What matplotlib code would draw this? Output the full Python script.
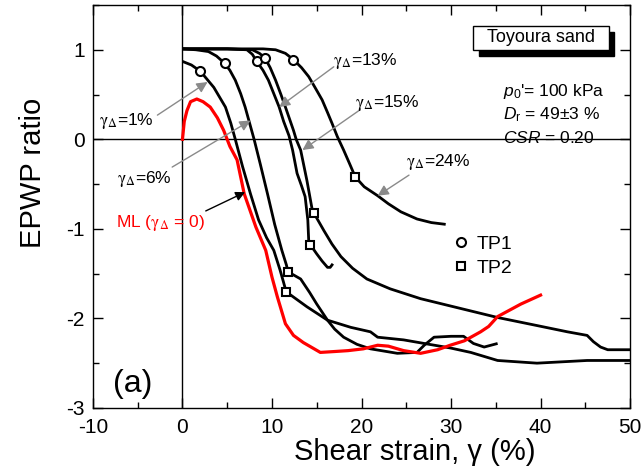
import matplotlib
matplotlib.use("Agg")
import matplotlib.pyplot as plt
from matplotlib.lines import Line2D
from matplotlib.patches import Rectangle

plt.rcParams['font.family'] = ['Liberation Sans', 'DejaVu Sans']
plt.rcParams['mathtext.fontset'] = 'custom'
plt.rcParams['mathtext.rm'] = 'Liberation Sans'
plt.rcParams['mathtext.it'] = 'Liberation Sans:italic'
plt.rcParams['axes.unicode_minus'] = False

# ---------------- data ----------------
ml_x = [0, 0.2, 0.5, 0.9, 1.6, 2.3, 3.1, 3.9, 4.6, 5.3, 6.1, 6.9, 8.2, 9.3, 10.0, 10.6,
        11.5, 12.4, 13.5, 15.4, 17.0, 18.5, 20.2, 21.8, 23.0, 24.7, 26.6, 28.5, 29.9,
        31.5, 33.3, 34.2, 35.2, 36.5, 37.8, 40.0]
ml_y = [0, 0.20, 0.32, 0.42, 0.45, 0.42, 0.36, 0.24, 0.10, -0.08, -0.23, -0.61, -0.98,
        -1.24, -1.54, -1.76, -2.06, -2.19, -2.27, -2.38, -2.37, -2.36, -2.34, -2.30,
        -2.31, -2.36, -2.39, -2.35, -2.30, -2.25, -2.15, -2.09, -1.98, -1.91, -1.84, -1.74]

g1_x = [0, 1.0, 2.0, 3.5, 4.8, 5.4, 5.9, 6.7, 7.6, 8.5, 9.4, 10.2, 10.9, 11.3, 11.6,
        12.1, 13.9, 16.2, 18.8, 21.0, 21.8, 24.7, 27.0, 29.9, 32.2, 35.2, 39.6, 45.2, 50.0]
g1_y = [0.87, 0.83, 0.76, 0.58, 0.36, 0.18, 0.0, -0.30, -0.61, -0.90, -1.10, -1.24,
        -1.46, -1.60, -1.71, -1.74, -1.87, -2.02, -2.10, -2.15, -2.21, -2.24, -2.28,
        -2.33, -2.38, -2.47, -2.50, -2.47, -2.47]

g6_x = [0, 1.5, 2.9, 3.8, 4.7, 5.3, 5.9, 6.5, 7.0, 8.0, 8.7, 9.5, 10.3, 11.1, 11.6, 11.8,
        12.5, 13.2, 14.2, 15.0, 16.2, 17.0, 18.0, 19.5, 21.0, 24.0, 26.2, 27.0, 28.1,
        30.0, 31.4, 32.5, 33.7, 35.2]
g6_y = [1.01, 1.00, 0.98, 0.93, 0.85, 0.77, 0.66, 0.51, 0.36, 0.0, -0.28, -0.61, -0.95,
        -1.24, -1.40, -1.48, -1.52, -1.56, -1.71, -1.84, -2.02, -2.12, -2.21, -2.29,
        -2.34, -2.39, -2.38, -2.30, -2.21, -2.20, -2.20, -2.28, -2.32, -2.28]

g13_x = [0, 5.0, 7.2, 7.8, 8.3, 9.0, 9.6, 10.2, 10.8, 11.3, 11.9, 12.3, 12.8, 13.3, 13.7,
         14.0, 14.1, 14.3, 15.0, 15.6, 16.2, 16.5, 16.8]
g13_y = [1.01, 1.01, 1.00, 0.95, 0.87, 0.77, 0.66, 0.51, 0.36, 0.20, 0.04, -0.12, -0.38,
         -0.52, -0.64, -0.90, -1.13, -1.18, -1.28, -1.36, -1.43, -1.43, -1.39]

g15_x = [0, 5.0, 7.8, 8.6, 9.2, 9.8, 10.4, 11.0, 11.5, 12.4, 12.7, 13.2, 13.9, 14.5, 14.7,
         15.0, 15.8, 16.7, 17.7, 19.0, 20.6, 23.2, 26.6, 31.1, 35.2, 39.6, 43.0, 45.2,
         45.9, 46.7, 47.5, 48.9, 50.0]
g15_y = [1.01, 1.01, 1.00, 0.96, 0.91, 0.80, 0.66, 0.50, 0.36, 0.10, 0.0, -0.12, -0.46,
         -0.79, -0.82, -0.88, -1.02, -1.17, -1.31, -1.44, -1.56, -1.67, -1.78, -1.89,
         -1.99, -2.08, -2.15, -2.19, -2.26, -2.32, -2.35, -2.35, -2.35]

g24_x = [0, 5.0, 9.0, 10.4, 11.5, 12.4, 13.3, 14.1, 14.8, 15.6, 16.2, 16.7, 17.3, 18.0,
         18.7, 19.3, 20.3, 21.8, 23.0, 24.4, 26.2, 27.8, 29.4]
g24_y = [1.01, 1.01, 1.01, 1.00, 0.96, 0.89, 0.80, 0.70, 0.58, 0.44, 0.30, 0.18, 0.03,
         -0.12, -0.28, -0.42, -0.53, -0.63, -0.72, -0.81, -0.89, -0.93, -0.95]

tp1_x = [2.0, 4.7, 8.3, 9.2, 12.4]
tp1_y = [0.76, 0.85, 0.87, 0.91, 0.89]
tp2_x = [11.6, 11.8, 14.3, 14.7, 19.3]
tp2_y = [-1.71, -1.48, -1.18, -0.82, -0.42]

x_ticks = [-10, 0, 10, 20, 30, 40, 50]
y_ticks = [-3, -2, -1, 0, 1]

# ---------------- figure ----------------
fig = plt.figure(figsize=(6.41, 4.76), dpi=100)
ax = fig.add_axes([0.145, 0.143, 0.838, 0.8465])

ax.axhline(0, color='black', lw=1.0, zorder=1)
ax.axvline(0, color='black', lw=1.0, zorder=1)

for xs, ys in [(g1_x, g1_y), (g6_x, g6_y), (g13_x, g13_y), (g15_x, g15_y), (g24_x, g24_y)]:
    ax.plot(xs, ys, color='black', lw=2.0, zorder=3, solid_capstyle='butt')
ax.plot(ml_x, ml_y, color='#ff0000', lw=2.3, zorder=3)

ax.plot(tp1_x, tp1_y, ls='none', marker='o', ms=6.5, mfc='white', mec='black', mew=1.5, zorder=5)
ax.plot(tp2_x, tp2_y, ls='none', marker='s', ms=6, mfc='white', mec='black', mew=1.5, zorder=5)

ax.set_xlim(-10, 50)
ax.set_ylim(-3, 1.5)
ax.set_xticks(x_ticks)
ax.set_yticks(y_ticks)
ax.set_xticks([-5, 5, 15, 25, 35, 45], minor=True)
ax.set_yticks([-2.5, -1.5, -0.5, 0.5, 1.5], minor=True)
ax.tick_params(which='both', direction='in', top=True, right=True, labelsize=15)
ax.tick_params(which='major', length=7, width=1)
ax.tick_params(which='minor', length=4, width=1)
ax.tick_params(axis='x', which='major', pad=7)
ax.tick_params(axis='y', which='major', pad=6)
for s in ax.spines.values():
    s.set_linewidth(1.0)

ax.set_xlabel('Shear strain, γ (%)', fontsize=21)
ax.set_ylabel('EPWP ratio', fontsize=21)
ax.xaxis.set_label_coords(0.6, -0.075)
ax.yaxis.set_label_coords(-0.085, 0.583)

# annotations
arrow_gray = dict(arrowstyle='-|>', color='#8a8a8a', lw=1.0, mutation_scale=16, shrinkA=0, shrinkB=0)
ann = [
    (r'$\mathrm{\gamma}_{\Delta}$=1%', (-6.3, 0.21), (-2.8, 0.27), (2.8, 0.64)),
    (r'$\mathrm{\gamma}_{\Delta}$=6%', (-4.3, -0.44), (-1.15, -0.31), (7.6, 0.21)),
    (r'$\mathrm{\gamma}_{\Delta}$=13%', (20.4, 0.88), (16.9, 0.81), (10.8, 0.36)),
    (r'$\mathrm{\gamma}_{\Delta}$=15%', (22.9, 0.40), (19.7, 0.32), (13.4, -0.12)),
    (r'$\mathrm{\gamma}_{\Delta}$=24%', (28.6, -0.25), (25.3, -0.40), (21.8, -0.63)),
]
for txt, tpos, tail, head in ann:
    ax.text(tpos[0], tpos[1], txt, fontsize=12.5, ha='center', va='center',
            math_fontfamily='stix', zorder=6)
    ax.annotate('', xy=head, xytext=tail, arrowprops=arrow_gray, zorder=4)

ax.text(-2.4, -0.93, r'ML ($\mathrm{\gamma}_{\Delta}$ = 0)', color='#ff0000', fontsize=12.5,
        ha='center', va='center', math_fontfamily='stix')
ax.annotate('', xy=(7.0, -0.59), xytext=(2.6, -0.80),
            arrowprops=dict(arrowstyle='-|>', color='black', lw=1.0, mutation_scale=14,
                            shrinkA=0, shrinkB=0), zorder=4)

# Toyoura sand box with shadow
ax.add_patch(Rectangle((33.1, 0.935), 15.1, 0.261, facecolor='black', edgecolor='black',
                       lw=1, zorder=6))
ax.add_patch(Rectangle((32.5, 1.002), 15.1, 0.261, facecolor='white', edgecolor='black',
                       lw=1, zorder=7))
ax.text(40.05, 1.133, 'Toyoura sand', fontsize=13, ha='center', va='center', zorder=8)

ax.text(35.8, 0.53, r"$p_{\mathit{0}}$'= 100 kPa", fontsize=12.5, ha='left', va='center')
ax.text(35.8, 0.27, r"$D_{\mathrm{r}}$ = 49±3 %", fontsize=12.5, ha='left', va='center')
ax.text(35.8, 0.01, r"$CSR$ = 0.20", fontsize=12.5, ha='left', va='center')

ax.text(-7.8, -2.73, '(a)', fontsize=23, ha='left', va='center')

handles = [Line2D([], [], ls='none', marker='o', ms=6.5, mfc='white', mec='black', mew=1.5),
           Line2D([], [], ls='none', marker='s', ms=6, mfc='white', mec='black', mew=1.5)]
ax.legend(handles, ['TP1', 'TP2'], loc='center left', bbox_to_anchor=(0.635, 0.377),
          frameon=False, fontsize=14, handlelength=1.0, handletextpad=0.3, labelspacing=0.35)

fig.savefig('out.png', dpi=100)
